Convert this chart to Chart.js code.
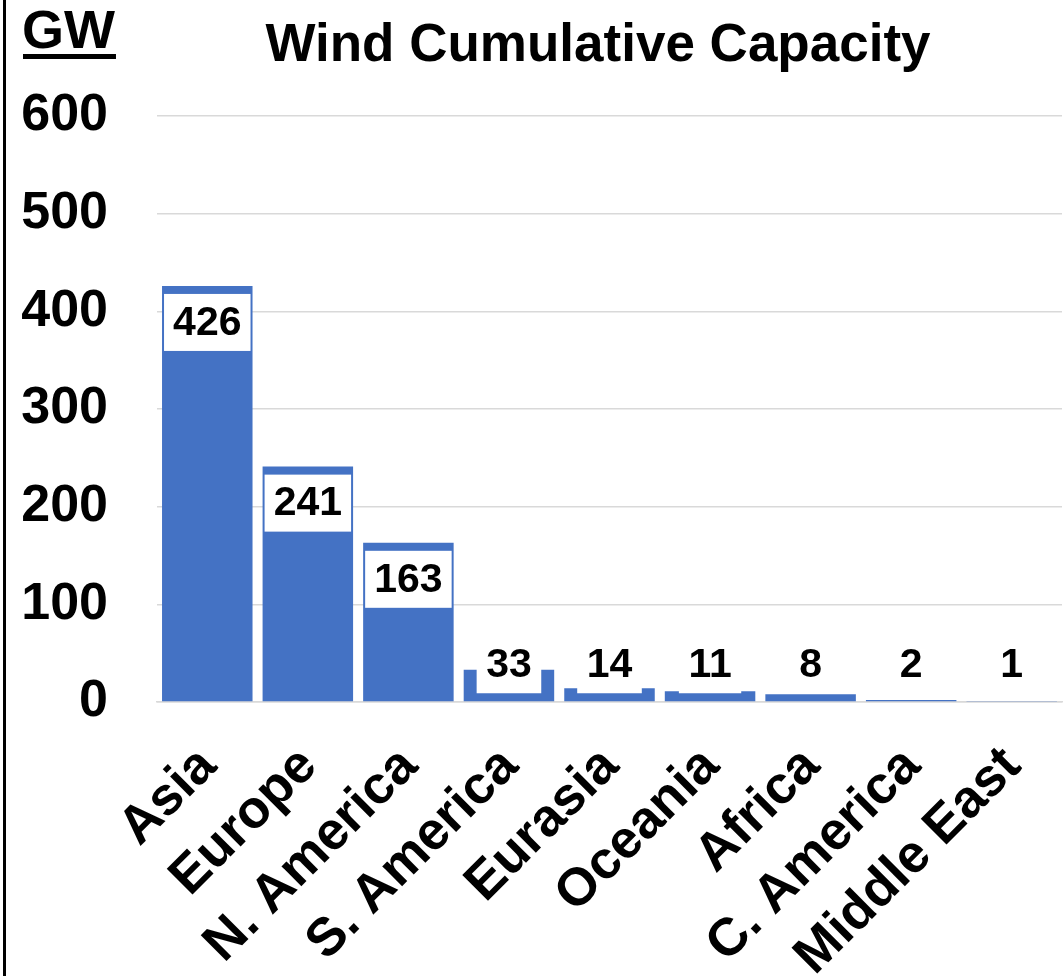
<!DOCTYPE html>
<html>
<head>
<meta charset="utf-8">
<script src="https://cdn.jsdelivr.net/npm/chart.js@4/dist/chart.umd.min.js"></script>
<style>
  html, body { margin: 0; padding: 0; background: #ffffff; }
  #wrap { width: 1064px; height: 976px; position: relative; }
  canvas { display: block; }
</style>
</head>
<body>
<div id="wrap"><canvas id="c" width="1064" height="976"></canvas></div>
<script>
// ---- data ----
const categories = ['Asia', 'Europe', 'N. America', 'S. America', 'Eurasia', 'Oceania', 'Africa', 'C. America', 'Middle East'];
const capacityGW = [426, 241, 163, 33, 14, 11, 8, 2, 1];
const yTickValues = [0, 100, 200, 300, 400, 500, 600];
const chartTitle = 'Wind Cumulative Capacity';
const unitLabel = 'GW';

const FONT = '"Liberation Sans", Arial, Helvetica, sans-serif';

const labelBoxPlugin = {
  id: 'labelBoxes',
  afterDatasetsDraw(chart) {
    const ctx = chart.ctx;
    const meta = chart.getDatasetMeta(0);
    const ds = chart.data.datasets[0];
    ctx.save();
    ctx.font = 'bold 41px ' + FONT;
    ctx.textAlign = 'center';
    ctx.textBaseline = 'middle';
    const H = 57;
    meta.data.forEach((bar, i) => {
      const p = bar.getProps(['x', 'y', 'base', 'width'], true);
      const txt = String(ds.data[i]);
      const tw = ctx.measureText(txt).width;
      const w = Math.min(tw + 19, p.width - 4);
      let bottom = Math.min(p.y + 8 + H, p.base - 8);
      const top = bottom - H;
      ctx.fillStyle = '#ffffff';
      ctx.fillRect(p.x - w / 2, top, w, H);
      ctx.fillStyle = '#000000';
      ctx.fillText(txt, p.x, top + H / 2 + 1);
    });
    ctx.restore();
  },
  afterDraw(chart) {
    const ctx = chart.ctx;
    ctx.save();
    // left border
    ctx.fillStyle = '#000000';
    ctx.fillRect(3, 0, 3, 976);
    // title
    ctx.font = 'bold 53px ' + FONT;
    ctx.textAlign = 'center';
    ctx.textBaseline = 'alphabetic';
    ctx.fillText(chartTitle, 598, 61);
    // unit label
    ctx.font = 'bold 54px ' + FONT;
    ctx.textAlign = 'left';
    ctx.fillText(unitLabel, 22, 48);
    const uw = ctx.measureText(unitLabel).width;
    ctx.fillRect(23, 54, uw, 5);
    ctx.restore();
  }
};

new Chart(document.getElementById('c'), {
  type: 'bar',
  data: {
    labels: categories,
    datasets: [{
      data: capacityGW,
      backgroundColor: '#4472C4',
      borderWidth: 0,
      barPercentage: 0.9,
      categoryPercentage: 1.0
    }]
  },
  options: {
    responsive: false,
    animation: false,
    devicePixelRatio: 1,
    layout: { padding: { top: 116, right: 2, left: 0, bottom: 0 } },
    plugins: {
      legend: { display: false },
      tooltip: { enabled: false },
      title: { display: false }
    },
    scales: {
      y: {
        min: 0,
        max: 600,
        afterBuildTicks(scale) { scale.ticks = yTickValues.map(v => ({ value: v })); },
        afterFit(scale) { scale.width = 157; scale.paddingTop = 0; scale.paddingBottom = 0; },
        ticks: {
          color: '#000000',
          font: { family: FONT, size: 52, weight: 'bold' },
          padding: 49
        },
        grid: { color: '#d9d9d9', lineWidth: 1.5, drawTicks: false },
        border: { display: false }
      },
      x: {
        afterFit(scale) { scale.height = 274; scale.paddingLeft = 0; scale.paddingRight = 0; },
        ticks: {
          color: '#000000',
          font: { family: FONT, size: 53, weight: 'bold' },
          minRotation: 45,
          maxRotation: 45,
          autoSkip: false,
          padding: 33,
          labelOffset: 1
        },
        grid: { display: false, drawTicks: false },
        border: { display: true, color: '#d9d9d9', width: 1.5 }
      }
    }
  },
  plugins: [labelBoxPlugin]
});
</script>
</body>
</html>
